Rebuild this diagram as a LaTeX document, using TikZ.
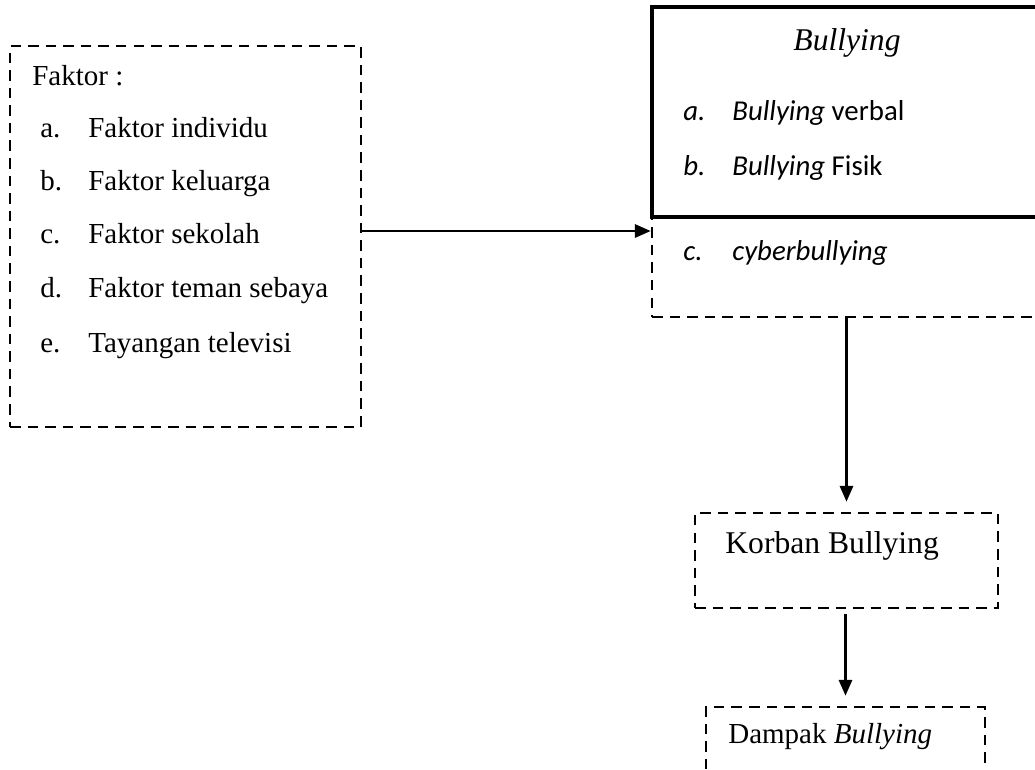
\documentclass[tikz,border=0pt]{standalone}
\usepackage{fontspec}
\setmainfont{Liberation Serif}
\newfontfamily\calibri{Carlito}
\usetikzlibrary{arrows.meta,positioning}

\begin{document}
\begin{tikzpicture}
			[x=0.02cm, y=-0.02cm, inner sep=0pt,
			putus/.style	= {draw, rectangle, line width=1.5pt, dash pattern=on 6pt off 4pt},
			tebal/.style	= {draw, rectangle, line width=2.2pt},
			teks/.style		= {anchor=base west, font=\fontsize{16.5}{20}\selectfont},
			judul/.style	= {anchor=base, font=\fontsize{18}{22}\selectfont\itshape},
			isi/.style		= {anchor=base west, font=\fontsize{16.4}{20}\selectfont\calibri},
			panah/.style	= {line width=1.4pt, -{Triangle[length=9pt, width=7.5pt]}}]

			\useasboundingbox (0,0) rectangle (1035,769);

			% kotak faktor
			\node [putus, minimum width=70.2mm, minimum height=76.2mm]	at (185.5,236.5)	(faktor)	{};
			\node [teks]	at (32,85)		(f0)	{Faktor :};
			\node [teks]	at (40,137)		(fa)	{a.};
			\node [teks]	at (88,137)		(fat)	{Faktor individu};
			\node [teks]	at (40,190)		(fb)	{b.};
			\node [teks]	at (88,190)		(fbt)	{Faktor keluarga};
			\node [teks]	at (40,243)		(fc)	{c.};
			\node [teks]	at (88,243)		(fct)	{Faktor sekolah};
			\node [teks]	at (40,297)		(fd)	{d.};
			\node [teks]	at (88,297)		(fdt)	{Faktor teman sebaya};
			\node [teks]	at (40,352)		(fe)	{e.};
			\node [teks]	at (88,352)		(fet)	{Tayangan televisi};

			% kotak bullying
			\node [putus, minimum width=78.6mm, minimum height=20mm]	at (848.5,267)	(cyber)		{};
			\node [tebal, minimum width=78.6mm, minimum height=42mm]	at (848.5,112)	(bullying)	{};
			\node [judul]	at (847,50)		(b0)	{Bullying};
			\node [isi]		at (683,120)	(ba)	{\itshape a.};
			\node [isi]		at (732,120)	(bat)	{\itshape Bullying\/\upshape\ verbal};
			\node [isi]		at (683,175)	(bb)	{\itshape b.};
			\node [isi]		at (732,175)	(bbt)	{\itshape Bullying\/\upshape\ Fisik};
			\node [isi]		at (683,260)	(bc)	{\itshape c.};
			\node [isi]		at (732,260)	(bct)	{\itshape cyberbullying};

			% korban dan dampak
			\node [putus, minimum width=60.6mm, minimum height=19mm]	at (846.5,560.5)	(korban)	{};
			\node [teks, font=\fontsize{18}{22}\selectfont]	at (725,553)	(kt)	{Korban Bullying};
			\node [putus, minimum width=55.8mm, minimum height=18.6mm]	at (845.5,753.5)	(dampak)	{};
			\node [teks]	at (728,743)	(dt)	{Dampak \textit{Bullying}};

			\draw [panah]	([yshift=1.1mm]faktor.east) -- ([yshift=1.1mm]faktor.east -| cyber.west);
			\draw [panah]	(korban.north |- cyber.south) -- ([yshift=2mm]korban.north);
			\draw [panah]	([yshift=-1mm]dampak.north |- korban.south) -- ([yshift=2mm]dampak.north);
			\end{tikzpicture}
\end{document}
